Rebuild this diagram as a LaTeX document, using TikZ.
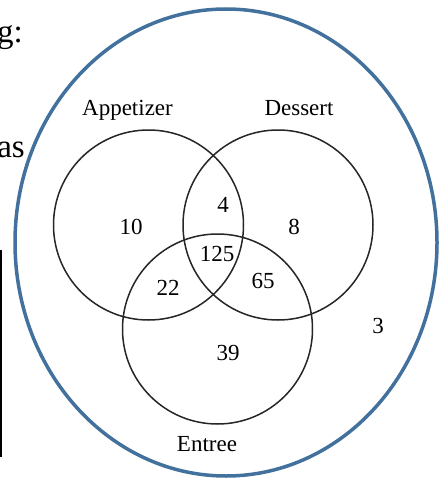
\documentclass[tikz,border=0pt]{standalone}
\usepackage{fontspec}
\setmainfont{Liberation Serif}
\definecolor{outerblue}{HTML}{41719C}
\begin{document}
\begin{tikzpicture}[x=1pt,y=-1pt,
  setcircle/.style={draw=black!85, line width=1.5pt},
  lbl/.style={anchor=base, inner sep=0pt, font=\fontsize{23}{26}\selectfont},
  side/.style={anchor=base east, inner sep=0pt, font=\fontsize{33}{36}\selectfont}]
\useasboundingbox (0,0) rectangle (443,479);
% universe
\draw[outerblue, line width=3.5pt] (226,242.5) ellipse [x radius=211, y radius=233.5];
% sets
\draw[setcircle] (148.5,225) circle [radius=95];
\draw[setcircle] (278,225) circle [radius=95];
\draw[setcircle] (217.5,329) circle [radius=95];
% set names
\node[lbl] (app) at (127.5,115) {Appetizer};
\node[lbl] (des) at (299,115) {Dessert};
\node[lbl] (ent) at (207,451) {Entree};
% counts
\node[lbl] (n10) at (131,234.5) {10};
\node[lbl] (n4) at (223,212.5) {4};
\node[lbl] (n8) at (294,234.5) {8};
\node[lbl] (n125) at (217,261.5) {125};
\node[lbl] (n22) at (168,295.5) {22};
\node[lbl] (n65) at (263,288.5) {65};
\node[lbl] (n39) at (228,360.5) {39};
\node[lbl] (n3) at (378,333.5) {3};
% cut-off surrounding page content
\node[side] (g) at (23,42) {g:};
\node[side] (as) at (25,157) {as};
\coordinate (vt) at (1,250);
\coordinate (vb) at (1,457);
\draw[black, line width=2pt] (vt) -- (vb);
\end{tikzpicture}
\end{document}
